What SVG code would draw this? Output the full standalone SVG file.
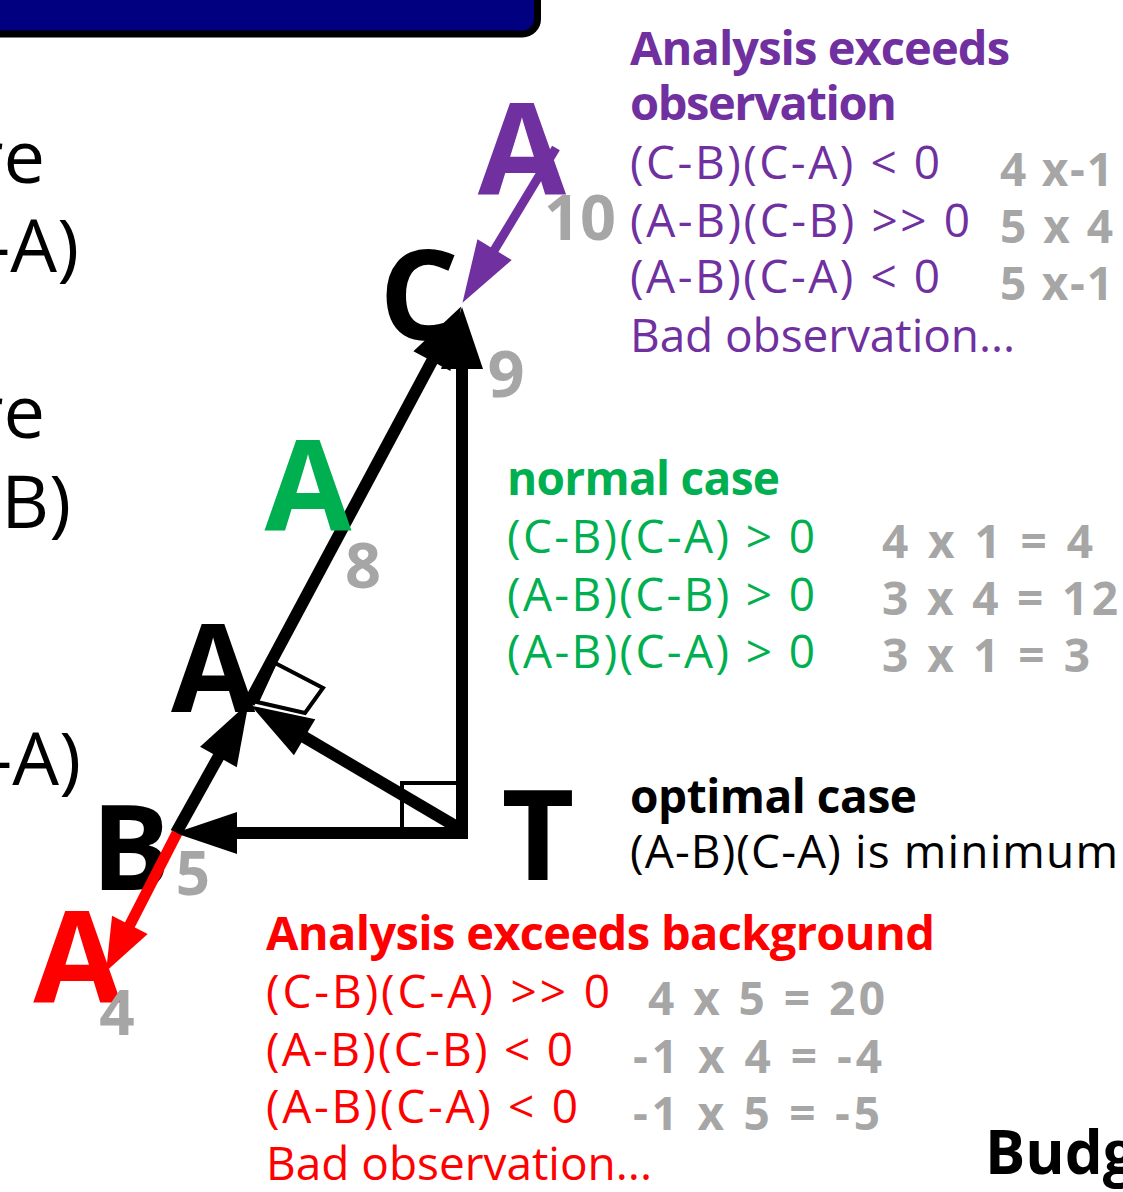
<svg xmlns="http://www.w3.org/2000/svg" width="1123" height="1192" viewBox="0 0 1123 1192">
<style>
text { font-family: "Open Sans", "Noto Sans", "Liberation Sans", sans-serif; }
.b { font-weight: bold; }
.big { font-weight: bold; text-anchor: middle; }
.num { font-weight: bold; fill: #A6A6A6; text-anchor: middle; }
.t { font-size: 46px; }
.g { font-size: 46px; font-weight: bold; fill: #A6A6A6; }
.purple { fill: #7030A0; }
.green { fill: #00B050; }
.red { fill: #FF0000; }
.blk { fill: #000000; }
.side { font-size: 74px; fill: #000; text-anchor: end; }
.ln { stroke: #000; stroke-width: 12; fill: none; }
.sq { stroke: #000; stroke-width: 4; fill: none; }
</style>
<defs>
<marker id="ahB" markerUnits="userSpaceOnUse" viewBox="0 -25 65 50" markerWidth="65" markerHeight="50" refX="32" refY="0" orient="auto" overflow="visible">
<path d="M0,-21 L62,0 L0,21 z" fill="#000"/>
</marker>
<marker id="ahP" markerUnits="userSpaceOnUse" viewBox="0 -25 65 50" markerWidth="65" markerHeight="50" refX="32" refY="0" orient="auto" overflow="visible">
<path d="M0,-20 L62,0 L0,20 z" fill="#7030A0"/>
</marker>
<marker id="ahR" markerUnits="userSpaceOnUse" viewBox="0 -25 65 50" markerWidth="65" markerHeight="50" refX="26" refY="0" orient="auto" overflow="visible">
<path d="M0,-20 L52,0 L0,20 z" fill="#FF0000"/>
</marker>
</defs>

<g id="banner">
<rect x="-40" y="-60" width="577.5" height="94" rx="15" fill="#000080" stroke="#000" stroke-width="7"/>
</g>

<g id="side-text">
<text class="side" x="45" y="183">re</text>
<text class="side" x="79" y="272">-A)</text>
<text class="side" x="45" y="438">re</text>
<text class="side" x="71" y="528">-B)</text>
<text class="side" x="81" y="785">-A)</text>
</g>

<g id="connectors">
<line class="ln" x1="462" y1="839" x2="462" y2="337" marker-end="url(#ahB)"/>
<line class="ln" x1="468" y1="833" x2="205" y2="833" marker-end="url(#ahB)"/>
<line class="ln" x1="462" y1="830" x2="277" y2="721" marker-end="url(#ahB)"/>
<line class="ln" x1="176" y1="833" x2="234" y2="729" marker-end="url(#ahB)"/>
<line class="ln" x1="249" y1="703" x2="447" y2="333" marker-end="url(#ahB)"/>
<polygon class="sq" points="257,702 275,663 323,688 305,713"/>
<polyline class="sq" points="402,830 402,783 458,783"/>
</g>

<g id="node-C"><text class="big blk" x="419" y="340" font-size="125">C</text></g>
<g id="node-A-green"><text class="big green" x="308" y="530" font-size="126">A</text></g>
<g id="node-A-black"><text class="big blk" x="213" y="712" font-size="122">A</text></g>
<g id="node-B"><text class="big blk" x="131" y="890" font-size="118">B</text></g>
<g id="node-T"><text class="big blk" x="538" y="880" font-size="126">T</text></g>
<g id="node-A-purple"><text class="big purple" x="522" y="195" font-size="128">A</text></g>
<g id="node-A-red"><text class="big red" x="77" y="1003" font-size="127">A</text></g>

<g id="colored-arrows">
<line x1="556" y1="148" x2="478" y2="277" stroke="#7030A0" stroke-width="9" marker-end="url(#ahP)"/>
<line x1="177" y1="833" x2="118" y2="948" stroke="#FF0000" stroke-width="11" marker-end="url(#ahR)"/>
</g>

<g id="numbers">
<text class="num" x="580" y="240" font-size="63">10</text>
<text class="num" x="506" y="397" font-size="65">9</text>
<text class="num" x="363" y="588" font-size="63">8</text>
<text class="num" x="193" y="895" font-size="60">5</text>
<text class="num" x="117" y="1035" font-size="62">4</text>
</g>

<g id="purple-block">
<text class="b purple" x="630" y="65" font-size="47" textLength="380">Analysis exceeds</text>
<text class="b purple" x="630" y="120" font-size="47" textLength="267">observation</text>
<text class="t purple" x="630" y="179" textLength="310">(C-B)(C-A)  &lt;  0</text>
<text class="t purple" x="630" y="237" textLength="340">(A-B)(C-B) &gt;&gt; 0</text>
<text class="t purple" x="630" y="293" textLength="310">(A-B)(C-A)  &lt;  0</text>
<text class="t purple" x="630" y="352" textLength="385">Bad observation...</text>
<text class="g" x="1000" y="186" textLength="113">4 x-1</text>
<text class="g" x="1000" y="243" textLength="113">5 x 4</text>
<text class="g" x="1000" y="300" textLength="113">5 x-1</text>
</g>

<g id="green-block">
<text class="b green" x="507" y="495" font-size="46" textLength="273">normal case</text>
<text class="t green" x="507" y="553" textLength="308">(C-B)(C-A)  &gt;  0</text>
<text class="t green" x="507" y="611" textLength="308">(A-B)(C-B)  &gt;  0</text>
<text class="t green" x="507" y="668" textLength="308">(A-B)(C-A)  &gt;  0</text>
<text class="g" x="882" y="558" textLength="211">4 x 1 = 4</text>
<text class="g" x="882" y="615" textLength="236">3 x 4 = 12</text>
<text class="g" x="882" y="672" textLength="208">3 x 1 = 3</text>
</g>

<g id="black-block">
<text class="b blk" x="630" y="813" font-size="46" textLength="287">optimal case</text>
<text class="t blk" x="630" y="868" textLength="488">(A-B)(C-A) is minimum</text>
</g>

<g id="red-block">
<text class="b red" x="266" y="950" font-size="47" textLength="669">Analysis exceeds background</text>
<text class="t red" x="266" y="1008" textLength="344">(C-B)(C-A) &gt;&gt; 0</text>
<text class="t red" x="266" y="1066" textLength="307">(A-B)(C-B)  &lt;  0</text>
<text class="t red" x="266" y="1123" textLength="312">(A-B)(C-A)  &lt;  0</text>
<text class="t red" x="266" y="1180" textLength="386">Bad observation...</text>
<text class="g" x="648" y="1015" textLength="237">4 x 5 = 20</text>
<text class="g" x="633" y="1073" textLength="249">-1 x 4 = -4</text>
<text class="g" x="633" y="1130" textLength="247">-1 x 5 = -5</text>
</g>

<g id="footer">
<text class="b blk" x="985" y="1174" font-size="60">Budg</text>
</g>
</svg>
